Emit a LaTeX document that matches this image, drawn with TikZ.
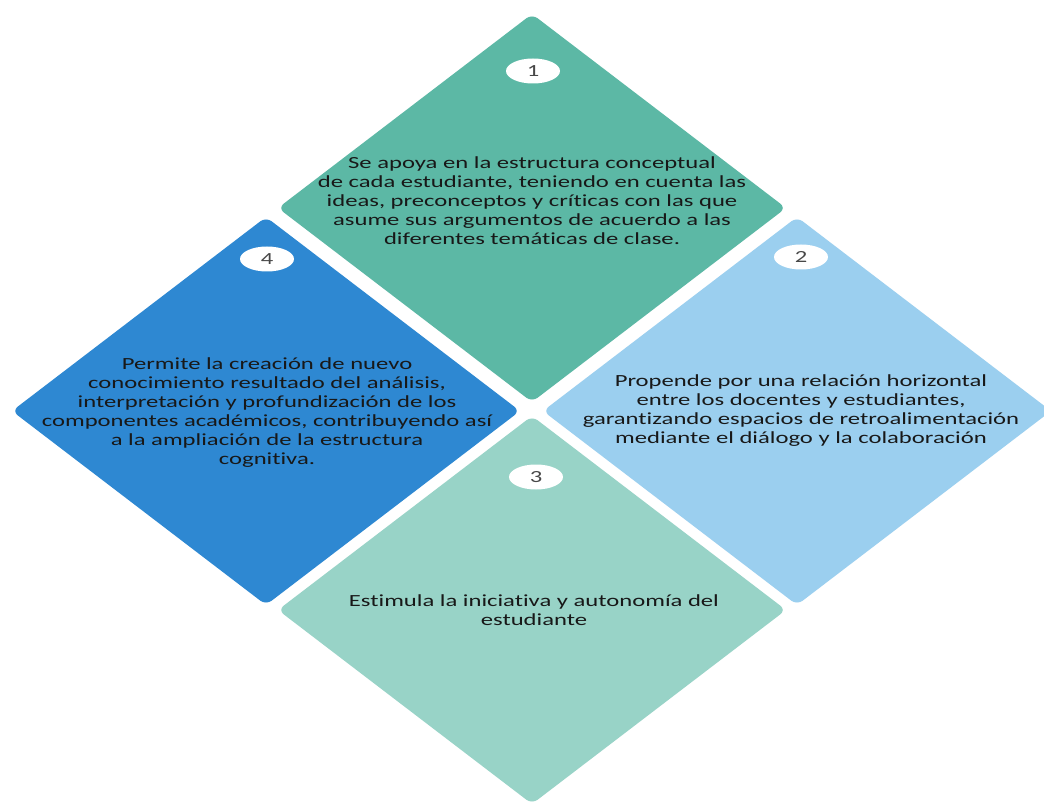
\documentclass[tikz,border=0pt]{standalone}
\usepackage{fontspec}
\setmainfont{Carlito}[FakeStretch=1.45, Ligatures={NoCommon}]
\usetikzlibrary{shapes.geometric}
\definecolor{cone}{RGB}{92,184,165}
\definecolor{ctwo}{RGB}{155,207,239}
\definecolor{cthree}{RGB}{152,211,199}
\definecolor{cfour}{RGB}{46,136,210}
\definecolor{ctext}{RGB}{24,24,24}
\definecolor{cnum}{RGB}{72,72,72}
\tikzset{
  tile/.style={diamond, draw=none, inner sep=0pt, outer sep=0pt,
    minimum width=508pt, minimum height=388pt, rounded corners=7pt},
  txt/.style={align=center, text=ctext, inner sep=0pt,
    font={\fontsize{17}{19}\selectfont}},
  badge/.style={ellipse, fill=white, inner sep=0pt, minimum width=54pt,
    minimum height=25pt, text=cnum, font={\fontsize{17}{19}\selectfont}}
}
\begin{document}
\begin{tikzpicture}[x=1pt,y=-1pt]
\useasboundingbox[fill=white] (0,0) rectangle (1044,802);
% tiles
\node[tile, fill=cone]   (d1) at (532,208) {};
\node[tile, fill=cfour]  (d4) at (266,411) {};
\node[tile, fill=ctwo]   (d2) at (797,411) {};
\node[tile, fill=cthree] (d3) at (532,610) {};
% badges
\node[badge] (b1) at (533,71) {1};
\node[badge] (b4) at (267,259) {4};
\node[badge] (b2) at (801,257) {2};
\node[badge] (b3) at (536,477) {3};
% texts
\node[txt] (t1) at (532,203) {\strut Se apoya en la estructura conceptual\\de cada estudiante, teniendo en cuenta las\\ideas, preconceptos y críticas con las que\\asume sus argumentos de acuerdo a las\\diferentes temáticas de clase.\strut};
\node[txt] (t4) at (267,413) {\strut Permite la creación de nuevo\\conocimiento resultado del análisis,\\interpretación y profundización de los\\componentes académicos, contribuyendo así\\a la ampliación de la estructura\\cognitiva.\strut};
\node[txt] (t2) at (801,411) {\strut Propende por una relación horizontal\\entre los docentes y estudiantes,\\garantizando espacios de retroalimentación\\mediante el diálogo y la colaboración\strut};
\node[txt] (t3) at (534,612) {\strut Estimula la iniciativa y autonomía del\\estudiante\strut};
\end{tikzpicture}
\end{document}
